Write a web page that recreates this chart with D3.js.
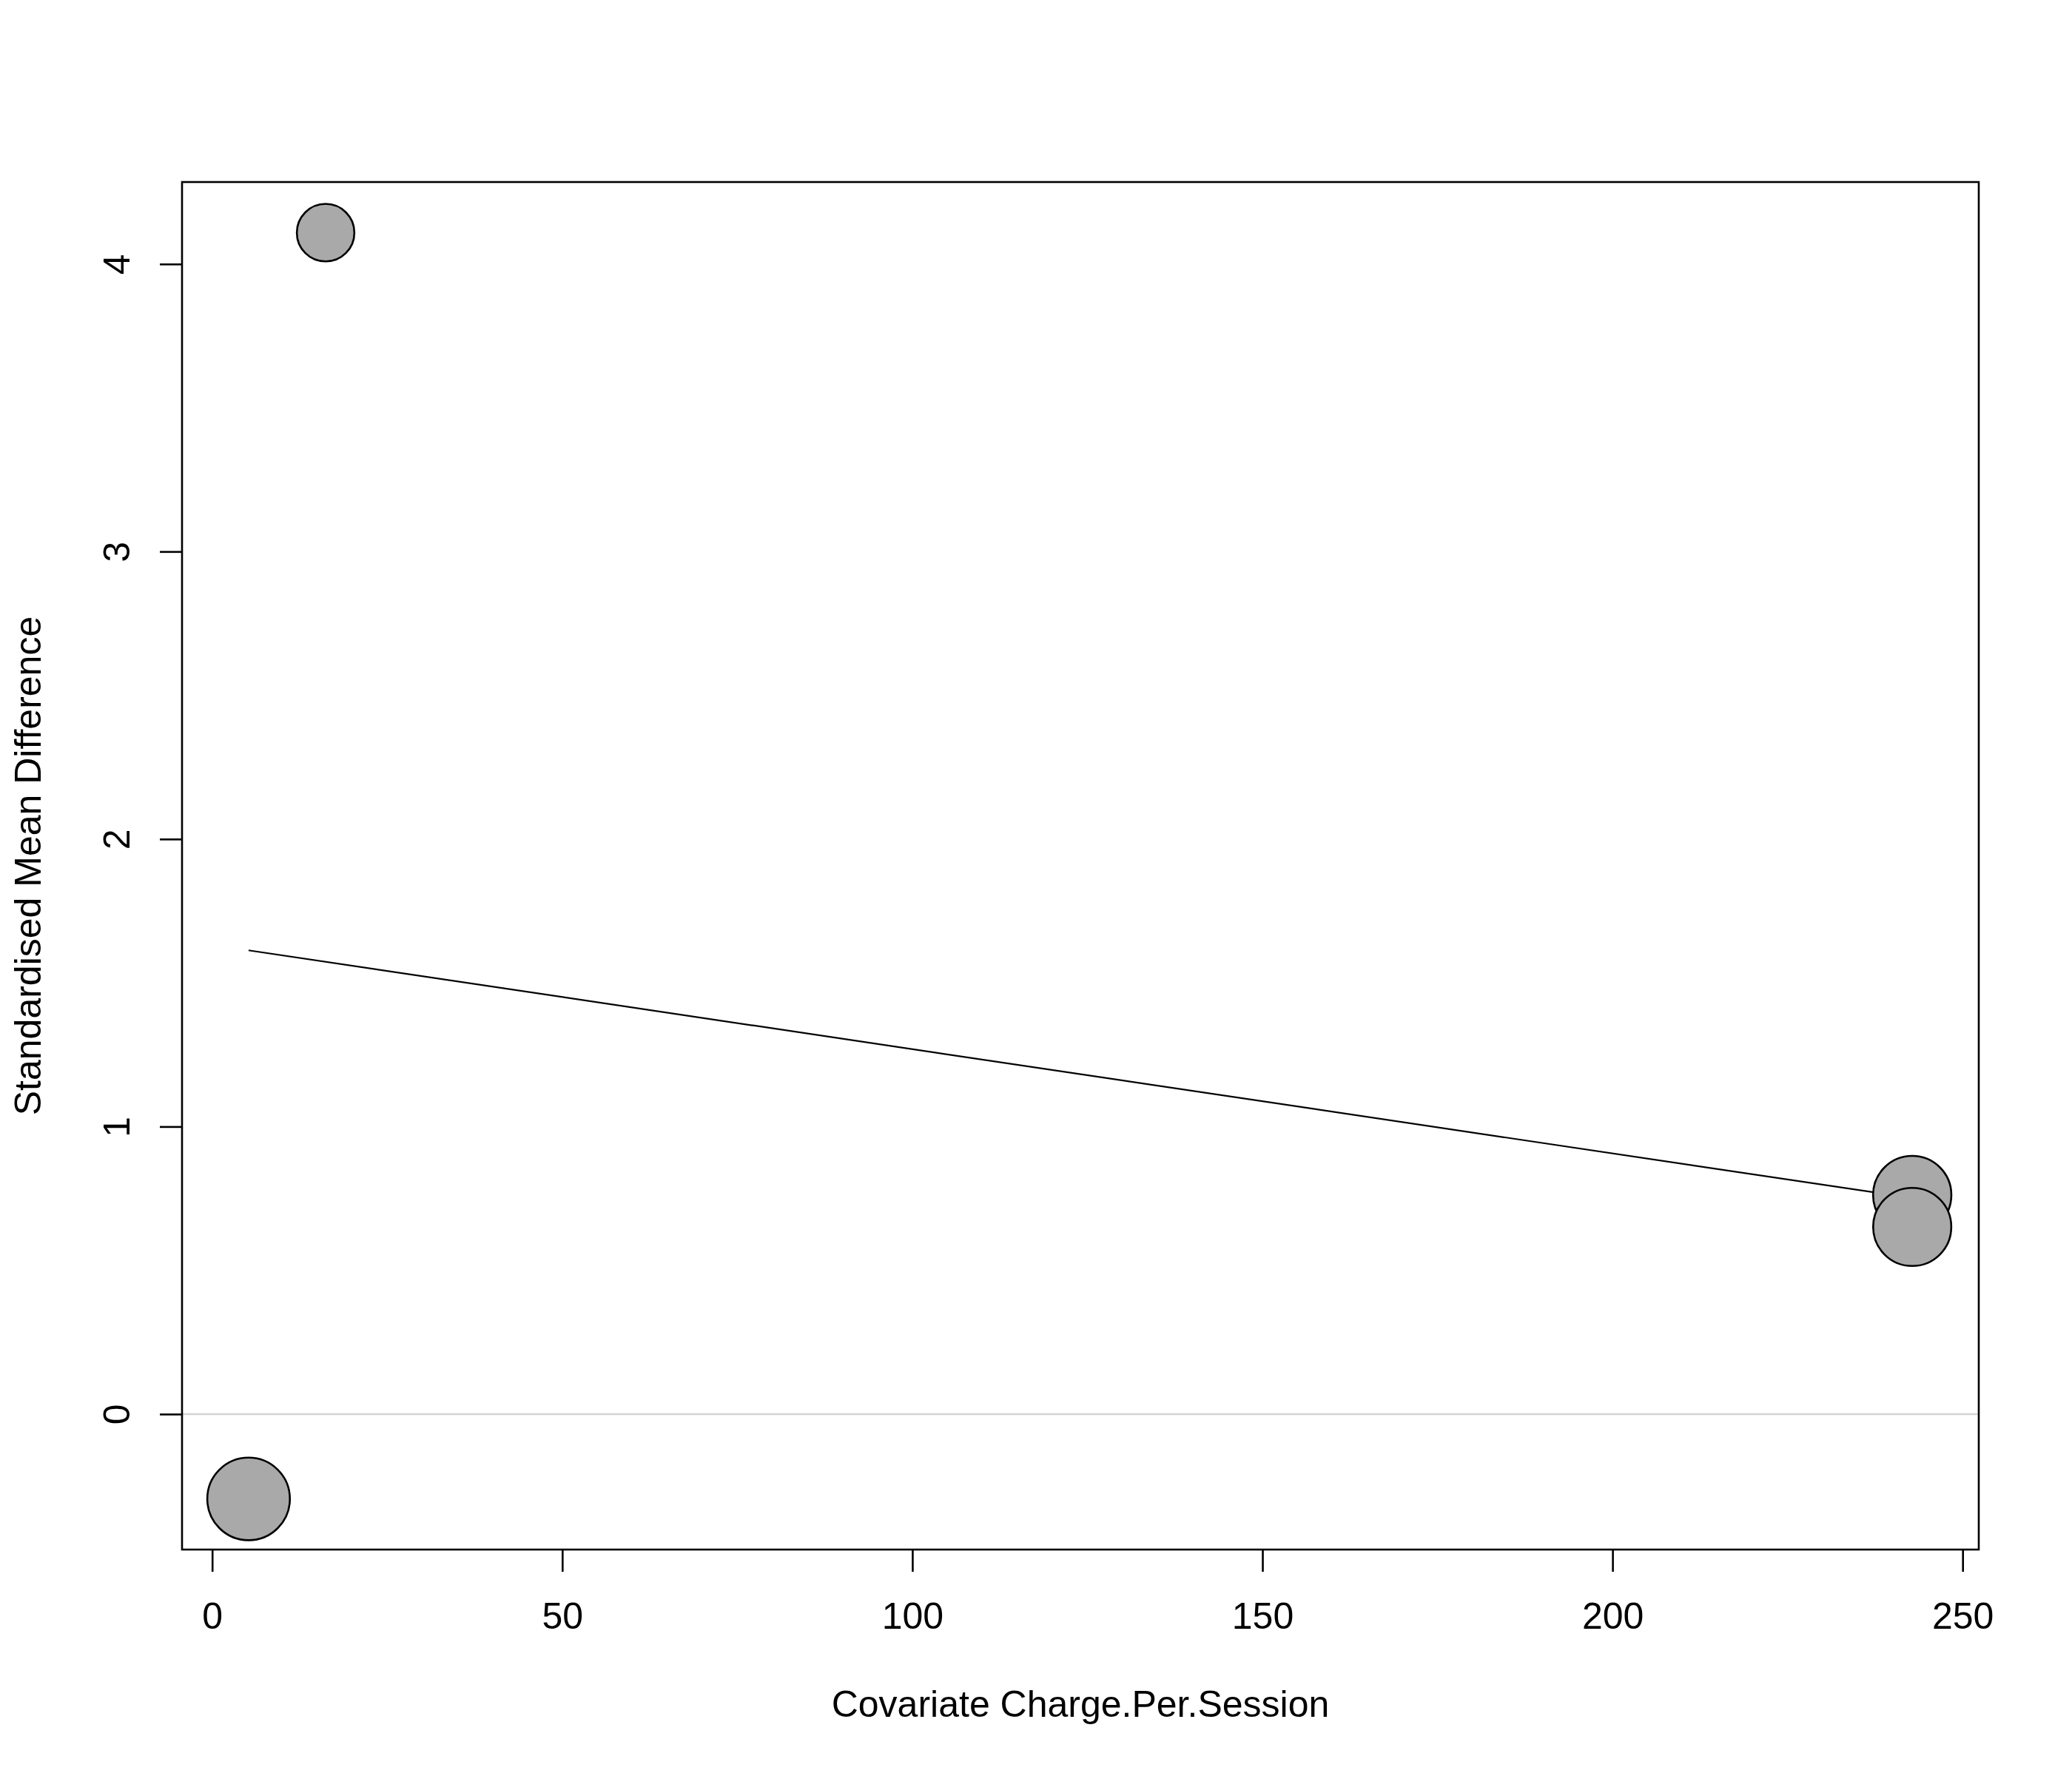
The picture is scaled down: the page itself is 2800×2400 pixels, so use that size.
<!DOCTYPE html>
<html>
<head>
<meta charset="utf-8">
<script src="https://cdn.jsdelivr.net/npm/d3@7"></script>
<style>
  html, body { margin: 0; padding: 0; background: #fff; }
  svg { display: block; }
  text { font-family: "Liberation Sans", Arial, sans-serif; fill: #000; }
</style>
</head>
<body>
<div id="chart"></div>
<script>
// study-level values
const charge = [16.2, 5.2, 242.8, 242.8]          // covariate Charge.Per.Session
const smd = [4.109, -0.295, 0.762, 0.651]          // standardised mean difference
const weight = [14.8, 30.5, 27.4, 27.3]            // study weights (%) -> bubble area

// fitted meta-regression line (ends)
const fitX = [5.2, 242.8]
const fitY = [1.613, 0.7515]

const xTicks = [0, 50, 100, 150, 200, 250]
const yTicks = [0, 1, 2, 3, 4]

const W = 2800, H = 2400
const margin = {top: 246, right: 126, bottom: 306, left: 246}
const iw = W - margin.left - margin.right
const ih = H - margin.top - margin.bottom

// R style limits: data range padded by 4% on each side
const pad = (ext) => {
    const r = ext[1] - ext[0]
    return [ext[0] - 0.04 * r, ext[1] + 0.04 * r]
}

const x = d3.scaleLinear().domain(pad(d3.extent(charge))).range([0, iw])
const y = d3.scaleLinear().domain(pad(d3.extent(smd))).range([ih, 0])
const r = d3.scaleSqrt().domain([0, d3.max(weight)]).range([0, 55.8])

const svg = d3.select("#chart")
    .append("svg")
    .attr("width", W)
    .attr("height", H)

svg.append("rect").attr("width", W).attr("height", H).attr("fill", "#fff")

const g = svg.append("g")
    .attr("transform", `translate(${margin.left},${margin.top})`)

// horizontal reference at 0
g.append("line")
    .attr("x1", 0).attr("x2", iw)
    .attr("y1", y(0)).attr("y2", y(0))
    .attr("stroke", "#d3d3d3")
    .attr("stroke-width", 2.6)

// regression line
g.append("path")
    .datum(d3.zip(fitX, fitY))
    .attr("fill", "none")
    .attr("stroke", "#000")
    .attr("stroke-width", 2.2)
    .attr("d", d3.line().x(d => x(d[0])).y(d => y(d[1])))

// bubbles, biggest drawn first
const pts = charge.map((c, i) => ({x: c, y: smd[i], w: weight[i]}))
    .sort((a, b) => b.w - a.w)

g.selectAll(".pt")
    .data(pts)
    .enter()
    .append("circle")
    .attr("class", "pt")
    .attr("cx", d => x(d.x))
    .attr("cy", d => y(d.y))
    .attr("r", d => r(d.w))
    .attr("fill", "#a9a9a9")
    .attr("stroke", "#000")
    .attr("stroke-width", 2.6)

// axes
const xAxis = g.append("g")
    .attr("transform", `translate(0,${ih})`)
    .call(d3.axisBottom(x).tickValues(xTicks).tickSize(30).tickSizeOuter(0).tickFormat(d3.format("d")))
xAxis.select(".domain").remove()
xAxis.selectAll("line").attr("stroke", "#000").attr("stroke-width", 2.6)
xAxis.selectAll("text")
    .attr("y", 107)
    .attr("dy", null)
    .attr("font-size", 50)
    .attr("font-family", "Liberation Sans, Arial, sans-serif")

const yAxis = g.append("g")
    .call(d3.axisLeft(y).tickValues(yTicks).tickSize(30).tickSizeOuter(0).tickFormat(d3.format("d")))
yAxis.select(".domain").remove()
yAxis.selectAll("line").attr("stroke", "#000").attr("stroke-width", 2.6)
yAxis.selectAll("text")
    .attr("x", null)
    .attr("dy", null)
    .attr("text-anchor", "middle")
    .attr("transform", "translate(-71,0) rotate(-90)")
    .attr("font-size", 50)
    .attr("font-family", "Liberation Sans, Arial, sans-serif")

// plot box
g.append("rect")
    .attr("width", iw)
    .attr("height", ih)
    .attr("fill", "none")
    .attr("stroke", "#000")
    .attr("stroke-width", 2.6)

// axis titles
svg.append("text")
    .attr("x", margin.left + iw / 2)
    .attr("y", 2320)
    .attr("text-anchor", "middle")
    .attr("font-size", 50)
    .text("Covariate Charge.Per.Session")

svg.append("text")
    .attr("transform", `translate(55,${margin.top + ih / 2}) rotate(-90)`)
    .attr("text-anchor", "middle")
    .attr("font-size", 50)
    .text("Standardised Mean Difference")
</script>
</body>
</html>
